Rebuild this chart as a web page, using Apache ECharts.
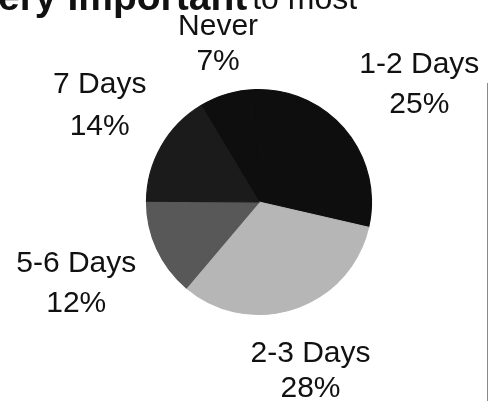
<!DOCTYPE html>
<html>
<head>
<meta charset="utf-8">
<script src="https://cdn.jsdelivr.net/npm/echarts@6/dist/echarts.min.js"></script>
<style>
  html, body { margin: 0; padding: 0; background: #ffffff; }
  #chart { width: 489px; height: 401px; }
</style>
</head>
<body>
<div id="chart"></div>
<script>
// How often the activity happens: share of respondents per answer
const categories = ['Never', '1-2 Days', '2-3 Days', '5-6 Days', '7 Days'];
const percents = [7, 25, 28, 12, 14];

// Grayscale fill for each slice, in category order
const sliceColors = ['#0e0e0e', '#0e0e0e', '#b6b6b6', '#585858', '#1b1b1b'];
// Two-line spacing of each label and small nudges away from the ring position
const labelLineHeights = [35, 40, 35, 40, 42];
const labelNudges = [[12, 23], [15, 2], [-8, -9], [-12, 3], [4, -3]];

const pieData = categories.map((name, i) => ({
  name: name,
  value: percents[i],
  // edge stroke in the fill colour closes the hairline seams between sectors
  itemStyle: { color: sliceColors[i], borderColor: sliceColors[i], borderWidth: 1.2 }
}));

const labelData = categories.map((name, i) => ({
  name: name,
  value: percents[i],
  label: { lineHeight: labelLineHeights[i] }
}));

const chart = echarts.init(document.getElementById('chart'), null, { renderer: 'canvas' });

chart.setOption({
  backgroundColor: '#ffffff',
  animation: false,
  title: {
    text: '{b|ery Important} {r|to most}',
    left: -2,
    top: -21,
    padding: 0,
    textStyle: {
      rich: {
        b: { fontFamily: 'Liberation Sans', fontWeight: 'bold', fontSize: 39, lineHeight: 40, color: '#111111', verticalAlign: 'bottom' },
        r: { fontFamily: 'Liberation Sans', fontWeight: 'normal', fontSize: 32, lineHeight: 36, color: '#111111', verticalAlign: 'bottom', padding: [0, 0, 3, 0] }
      }
    }
  },
  series: [
    {
      type: 'pie',
      center: [259, 202],
      radius: [0, 112.5],
      startAngle: 121,
      clockwise: true,
      silent: true,
      label: { show: false },
      labelLine: { show: false },
      data: pieData
    },
    {
      // invisible ring that carries the category labels at each slice's mid-angle
      type: 'pie',
      center: [259, 202],
      radius: [170, 200],
      startAngle: 121,
      clockwise: true,
      silent: true,
      itemStyle: { color: 'rgba(0,0,0,0)' },
      label: {
        show: true,
        position: 'inside',
        formatter: '{b}\n{c}%',
        fontFamily: 'Liberation Sans',
        fontSize: 30,
        color: '#111111',
        align: 'center'
      },
      labelLine: { show: false },
      labelLayout: function (p) {
        const n = labelNudges[p.dataIndex];
        return { dx: n[0], dy: n[1] };
      },
      data: labelData
    }
  ],
  graphic: [
    {
      type: 'line',
      silent: true,
      shape: { x1: 487.5, y1: 83, x2: 487.5, y2: 401 },
      style: { stroke: '#8a8a8a', lineWidth: 1 }
    }
  ]
});
</script>
</body>
</html>
